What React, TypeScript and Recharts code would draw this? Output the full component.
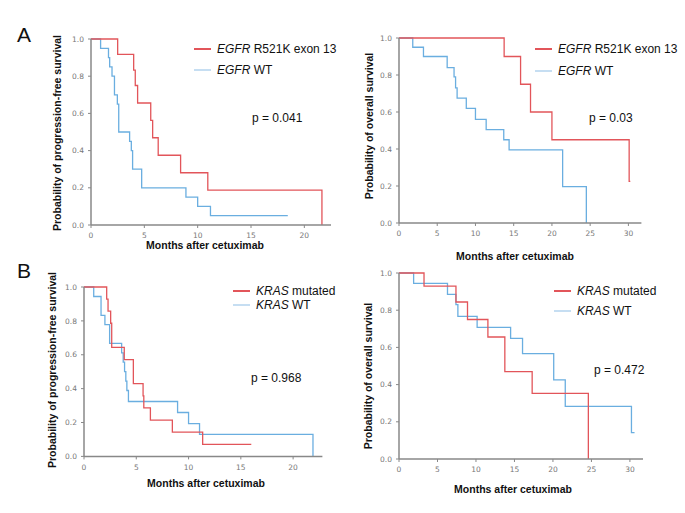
import { Line, LineChart, XAxis, YAxis } from "recharts";

const RED = "#e2555a";
const BLUE = "#6aaee0";
const FONT = "'Liberation Sans', Arial, sans-serif";

const yTicks = [0, 0.2, 0.4, 0.6, 0.8, 1.0];
const pfsTicks = [0, 5, 10, 15, 20];
const osTicks = [0, 5, 10, 15, 20, 25, 30];

// A, PFS by EGFR
const pfsEgfrMutTime = [0, 2.5, 4.0, 4.15, 4.37, 5.6, 5.78, 6.3, 8.4, 10.95, 21.65];
const pfsEgfrMutSurv = [1, 0.917, 0.833, 0.75, 0.656, 0.563, 0.469, 0.375, 0.281, 0.188, 0];
const pfsEgfrWtTime = [0, 0.9, 1.64, 1.75, 1.97, 2.2, 2.47, 2.6, 3.62, 3.78, 3.9, 4.75, 8.9, 10.0, 11.2, 18.45];
const pfsEgfrWtSurv = [1, 0.95, 0.9, 0.85, 0.8, 0.7, 0.65, 0.5, 0.45, 0.4, 0.3, 0.2, 0.15, 0.1, 0.05, 0.05];

// A, OS by EGFR
const osEgfrMutTime = [0, 13.75, 15.9, 17.2, 20.0, 30.1, 30.25];
const osEgfrMutSurv = [1, 0.9, 0.75, 0.6, 0.45, 0.225, 0.225];
const osEgfrWtTime = [0, 1.8, 3.2, 6.3, 7.2, 7.4, 7.6, 8.8, 10.0, 11.4, 13.7, 14.4, 21.4, 24.5];
const osEgfrWtSurv = [1, 0.95, 0.9, 0.84, 0.79, 0.73, 0.675, 0.62, 0.56, 0.505, 0.45, 0.395, 0.197, 0];

// B, PFS by KRAS
const pfsKrasMutTime = [0, 2.17, 2.3, 2.55, 2.65, 3.85, 4.72, 5.65, 5.72, 6.35, 8.45, 11.35, 16.0];
const pfsKrasMutSurv = [1, 0.929, 0.857, 0.786, 0.643, 0.571, 0.429, 0.357, 0.286, 0.214, 0.143, 0.071, 0.071];
const pfsKrasWtTime = [0, 0.93, 1.63, 2.0, 2.45, 3.6, 3.75, 3.88, 4.0, 4.1, 4.25, 8.95, 10.0, 11.05, 21.9];
const pfsKrasWtSurv = [1, 0.944, 0.833, 0.778, 0.667, 0.611, 0.556, 0.5, 0.444, 0.389, 0.324, 0.259, 0.194, 0.13, 0];

// B, OS by KRAS
const osKrasMutTime = [0, 3.25, 7.4, 8.9, 11.55, 13.75, 17.3, 24.6];
const osKrasMutSurv = [1, 0.929, 0.844, 0.75, 0.656, 0.47, 0.353, 0];
const osKrasWtTime = [0, 1.9, 6.3, 7.4, 7.65, 10.15, 14.5, 16.05, 20.1, 21.6, 30.2, 30.6];
const osKrasWtSurv = [1, 0.944, 0.885, 0.83, 0.767, 0.708, 0.649, 0.567, 0.425, 0.283, 0.142, 0.142];

const zip = (t: number[], s: number[]) => t.map((v, i) => ({ t: v, s: s[i] }));

const tickStyle = { fontSize: 7.5, fill: "#777", fontFamily: "'DejaVu Sans', sans-serif" };

function KmPanel({ x, y, w, h, xMax, xTicks, mut, wt }: any) {
  return (
    <div style={{ position: "absolute", left: x - 40, top: y - 10 }}>
      <LineChart width={w + 50} height={h + 35} margin={{ top: 10, right: 10, bottom: 0, left: 0 }}>
        <XAxis
          type="number"
          dataKey="t"
          domain={[0, xMax]}
          ticks={xTicks}
          allowDataOverflow
          height={25}
          tick={tickStyle}
          tickSize={3}
          tickMargin={5}
          axisLine={{ stroke: "#888", strokeWidth: 1.5 }}
          tickLine={{ stroke: "#888" }}
        />
        <YAxis
          type="number"
          domain={[0, 1]}
          ticks={yTicks}
          width={40}
          tick={tickStyle}
          tickSize={3}
          tickMargin={4}
          tickFormatter={(v: number) => v.toFixed(1)}
          axisLine={{ stroke: "#888", strokeWidth: 1.5 }}
          tickLine={{ stroke: "#888" }}
        />
        <Line data={wt} dataKey="s" type="stepAfter" stroke={BLUE} strokeWidth={1.3} dot={false} isAnimationActive={false} />
        <Line data={mut} dataKey="s" type="stepAfter" stroke={RED} strokeWidth={1.3} dot={false} isAnimationActive={false} />
      </LineChart>
    </div>
  );
}

function Txt({ x, y, size = 12, bold = false, rotate = false, center = false, children }: any) {
  const tf = rotate
    ? "translate(-50%, -50%) rotate(-90deg)"
    : center
      ? "translate(-50%, -50%)"
      : "translate(0, -50%)";
  return (
    <div
      style={{
        position: "absolute",
        left: x,
        top: y,
        transform: tf,
        fontFamily: FONT,
        fontSize: size,
        fontWeight: bold ? "bold" : "normal",
        whiteSpace: "nowrap",
        color: "#111",
        lineHeight: 1,
      }}
    >
      {children}
    </div>
  );
}

function LegendItem({ x, y, color, gene, rest }: any) {
  return (
    <>
      <div style={{ position: "absolute", left: x, top: y - 0.75, width: 17, height: 1.5, background: color }} />
      <Txt x={x + 23} y={y}>
        <i>{gene}</i> {rest}
      </Txt>
    </>
  );
}

export default function App() {
  return (
    <div style={{ position: "absolute", left: 0, top: 0, width: 685, height: 513, background: "#fff", overflow: "hidden" }}>
      <Txt x={17} y={34} size={21}>A</Txt>
      <Txt x={17} y={270} size={21}>B</Txt>

      <KmPanel x={90.7} y={39} w={240} h={186} xMax={22.5} xTicks={pfsTicks}
        mut={zip(pfsEgfrMutTime, pfsEgfrMutSurv)} wt={zip(pfsEgfrWtTime, pfsEgfrWtSurv)} />
      <KmPanel x={399.3} y={38.3} w={242.4} h={185} xMax={31.7} xTicks={osTicks}
        mut={zip(osEgfrMutTime, osEgfrMutSurv)} wt={zip(osEgfrWtTime, osEgfrWtSurv)} />
      <KmPanel x={84.3} y={287.3} w={238.4} h={169.4} xMax={22.8} xTicks={pfsTicks}
        mut={zip(pfsKrasMutTime, pfsKrasMutSurv)} wt={zip(pfsKrasWtTime, pfsKrasWtSurv)} />
      <KmPanel x={399.3} y={273.3} w={244} h={186} xMax={31.7} xTicks={osTicks}
        mut={zip(osKrasMutTime, osKrasMutSurv)} wt={zip(osKrasWtTime, osKrasWtSurv)} />

      <Txt x={57} y={133} size={10.5} bold rotate>Probability of progression-free survival</Txt>
      <Txt x={369} y={126} size={10.5} bold rotate>Probability of overall survival</Txt>
      <Txt x={52} y={370} size={10.5} bold rotate>Probability of progression-free survival</Txt>
      <Txt x={368} y={376} size={10.5} bold rotate>Probability of overall survival</Txt>

      <Txt x={205} y={245} size={10.5} bold center>Months after cetuximab</Txt>
      <Txt x={515} y={256} size={10.5} bold center>Months after cetuximab</Txt>
      <Txt x={206} y={483} size={10.5} bold center>Months after cetuximab</Txt>
      <Txt x={513} y={489} size={10.5} bold center>Months after cetuximab</Txt>

      <LegendItem x={194} y={49} color={RED} gene="EGFR" rest="R521K exon 13" />
      <LegendItem x={194} y={70} color="#c6def2" gene="EGFR" rest="WT" />
      <LegendItem x={535} y={49} color={RED} gene="EGFR" rest="R521K exon 13" />
      <LegendItem x={535} y={71} color="#c6def2" gene="EGFR" rest="WT" />
      <LegendItem x={233} y={291} color={RED} gene="KRAS" rest="mutated" />
      <LegendItem x={233} y={305} color="#c6def2" gene="KRAS" rest="WT" />
      <LegendItem x={554} y={291} color={RED} gene="KRAS" rest="mutated" />
      <LegendItem x={554} y={311} color="#c6def2" gene="KRAS" rest="WT" />

      <Txt x={252} y={118}>p = 0.041</Txt>
      <Txt x={589} y={118}>p = 0.03</Txt>
      <Txt x={251} y={378}>p = 0.968</Txt>
      <Txt x={594} y={370}>p = 0.472</Txt>
    </div>
  );
}
